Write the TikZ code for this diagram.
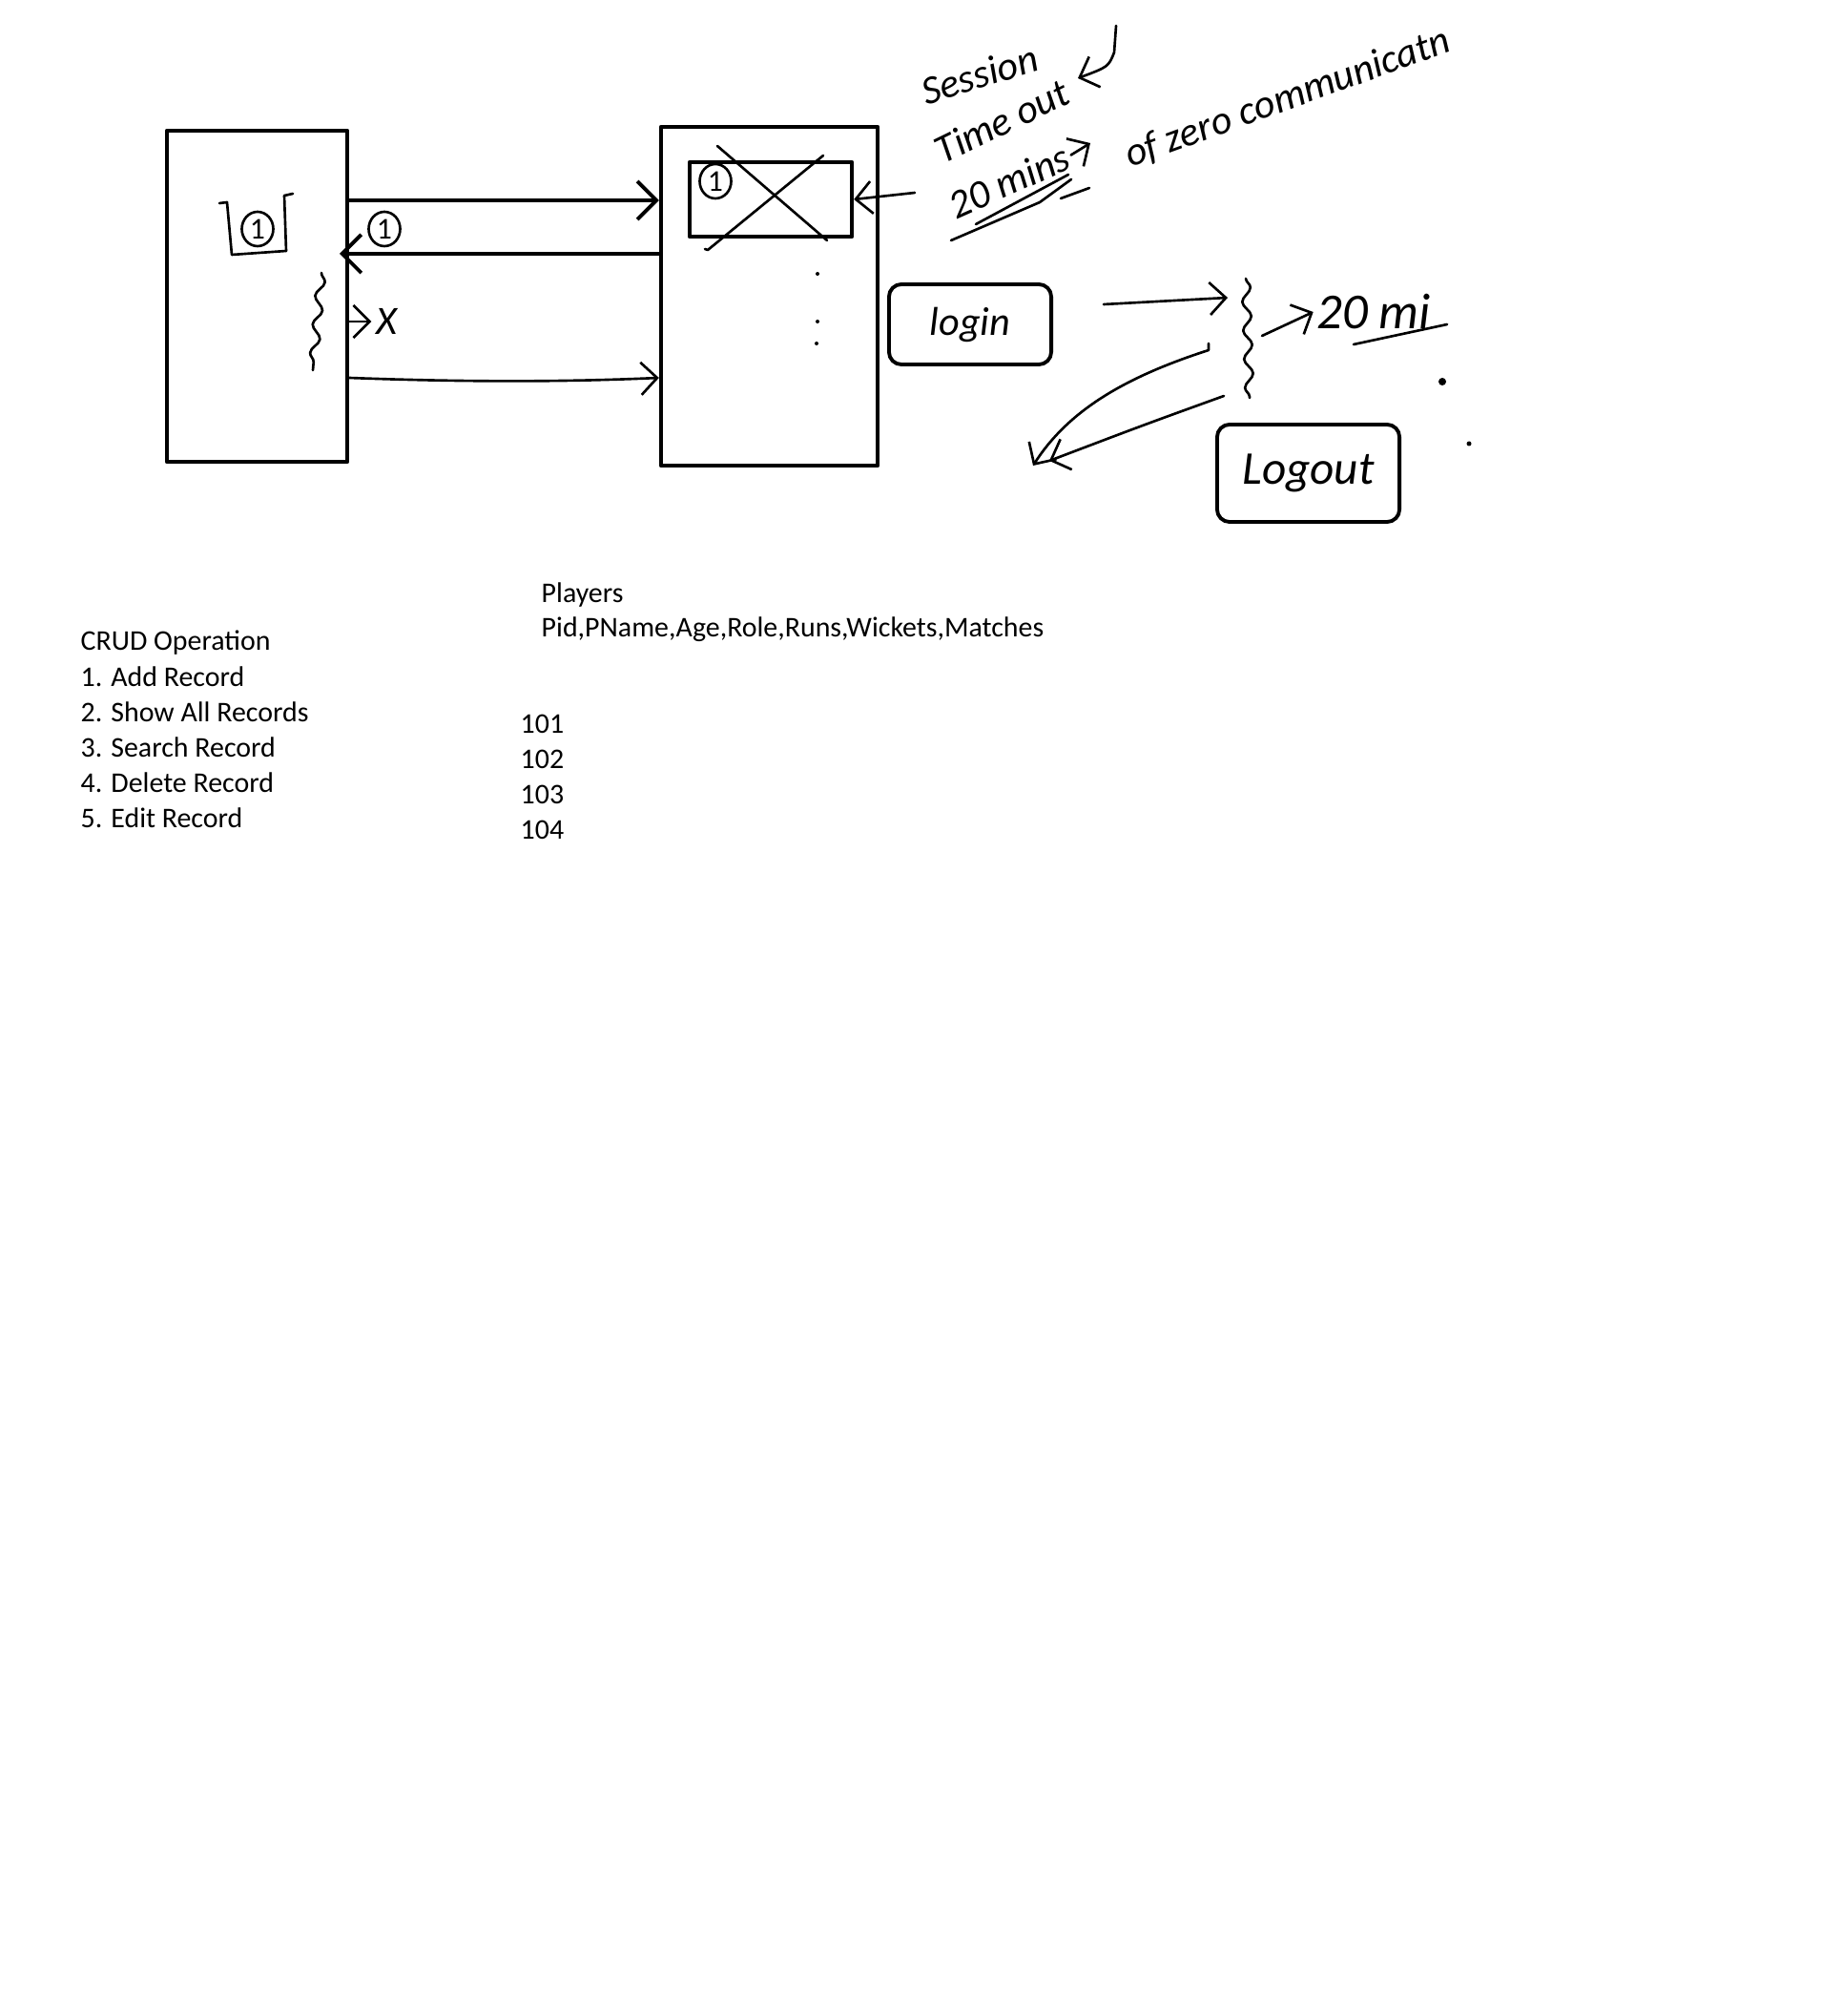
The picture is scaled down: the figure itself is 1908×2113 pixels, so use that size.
\documentclass[tikz,border=0pt]{standalone}
\usepackage{fontspec}
\setmainfont{Carlito}
\usetikzlibrary{arrows.meta, positioning, shapes.geometric, decorations.pathmorphing, calc}

\begin{document}
\begin{tikzpicture}[
  x=0.01cm, y=-0.01cm,
  font=\fontsize{8.5}{10.5}\selectfont,
  line cap=round, line join=round,
  pagebox/.style={draw, line width=1.2pt, inner sep=0pt},
  btnbox/.style={draw, line width=1.1pt, rounded corners=0.13cm, inner sep=0pt},
  circ/.style={draw, ellipse, line width=0.75pt, inner sep=0pt, minimum width=0.33cm,
               minimum height=0.36cm, font=\fontsize{9}{10}\selectfont},
  hand/.style={font=\fontsize{12}{13}\selectfont\itshape, inner sep=0pt},
  thickarr/.style={-{Straight Barb[length=0.2cm, width=0.4cm]}, line width=1.1pt},
  arr/.style={-{Straight Barb[length=0.17cm, width=0.34cm]}, line width=0.75pt},
  wavy/.style={line width=0.75pt, decorate,
               decoration={snake, amplitude=0.045cm, segment length=0.3cm}},
  pen/.style={line width=0.75pt},
  txt/.style={anchor=base west, inner sep=0pt},
  ]
\useasboundingbox (0,0) rectangle (1908,2113);

% client page and server page
\node[pagebox, minimum width=1.89cm, minimum height=3.47cm] (client) at (269.5,310.5) {};
\node[pagebox, minimum width=2.27cm, minimum height=3.55cm] (server) at (806.5,310.5) {};
\node[pagebox, minimum width=1.70cm, minimum height=0.78cm] (session) at (808,209) {};

\node[circ] (cid) at (270,240) {1};
\node[circ] (rid) at (403,240) {1};
\node[circ] (sid) at (750,190) {1};

% cup round the id on the client
\draw[pen] (230,213) -- (238,212) -- (243,267) -- (300,263);
\draw[pen] (300,263) -- (298,205) -- (307,203);

% request, response, later request
\coordinate (req) at (0,210);
\coordinate (resp) at (356,266);
\coordinate (post) at (0,396);
\draw[thickarr] (client.east |- req) -- (server.west |- req);
\draw[thickarr] (server.west |- resp) -- (resp);
\draw[arr] (client.east |- post) .. controls (500,401) and (600,400) .. (server.west |- post);

\draw[wavy] (337,286) -- (328,388);
\node[hand] (xmark) at (405,337) {X};
\draw[arr] (client.east |- xmark) -- ([xshift=-0.04cm]xmark.west);

% session entry crossed out
\draw[pen] (752,153) -- (867,252);
\draw[pen] (863,163) -- (742,262) -- (739,261);
\coordinate (ptr) at (959,202);
\draw[arr] (ptr) -- (session.east);

\fill (857,287) circle (0.02cm);
\fill (857,337) circle (0.02cm);
\fill (856,360) circle (0.02cm);

% buttons
\node[btnbox, minimum width=1.70cm, minimum height=0.84cm, hand] (login) at (1017,340) {login};
\node[btnbox, minimum width=1.91cm, minimum height=1.02cm, hand,
      font=\fontsize{14}{15}\selectfont\itshape] (logout) at (1371.5,496) {Logout};

% session timeout note
\node[hand, rotate=17] (sess) at (1027,78) {Session};
\node[hand, rotate=26] (tout) at (1050,127) {Time out};
\node[hand, rotate=24] (mins) at (1058,190) {20 mins};
\node[hand, rotate=20] (zero) at (1350,103) {of zero communicatn};
\draw[arr] ([xshift=0.03cm]mins.east) -- (1143,150);
\coordinate (curl) at (1170,27);
\draw[arr] (curl) -- (1168,55) .. controls (1162,70) .. (1130,82);
\draw[pen] (997,252) -- (1090,212) -- (1123,188);
\draw[pen] (1023,235) -- (1120,183);
\draw[pen] (1112,208) -- (1142,197);

% idle period
\coordinate (brtop) at (1306,292);
\coordinate (brbot) at (1310,417);
\draw[wavy] (brtop) -- (brbot);
\coordinate (lgo) at (1157,319);
\draw[arr] (lgo) -- (1287,312);
\node[hand, font=\fontsize{15}{16}\selectfont\itshape] (twenty) at (1440,327) {20 mi};
\draw[arr] (1323,352) -- ([xshift=-0.03cm]twenty.west);
\draw[pen] (1419,361) -- (1517,340);
\fill (1512,400) circle (0.04cm);
\fill (1540,465) circle (0.025cm);

\coordinate (back) at (1083,488);
\draw[arr] (1267,360) -- (1267,367) .. controls (1180,395) and (1120,430) .. (back);
\draw[arr] (1283,415) .. controls (1200,445) .. (1100,483);

% CRUD menu
\node[txt] (crud) at (84,682) {CRUD Operation};
\node[txt] (c1) at (84,719) {1. Add Record};
\node[txt] (c2) at (84,756) {2. Show All Records};
\node[txt] (c3) at (84,793) {3. Search Record};
\node[txt] (c4) at (84,830) {4. Delete Record};
\node[txt] (c5) at (84,867) {5. Edit Record};

% players table
\node[txt] (players) at (567,632) {Players};
\node[txt] (cols) at (567,668) {Pid,PName,Age,Role,Runs,Wickets,Matches};
\node[txt] (p1) at (545,768) {101};
\node[txt] (p2) at (545,805) {102};
\node[txt] (p3) at (545,842) {103};
\node[txt] (p4) at (545,879) {104};
\end{tikzpicture}
\end{document}
